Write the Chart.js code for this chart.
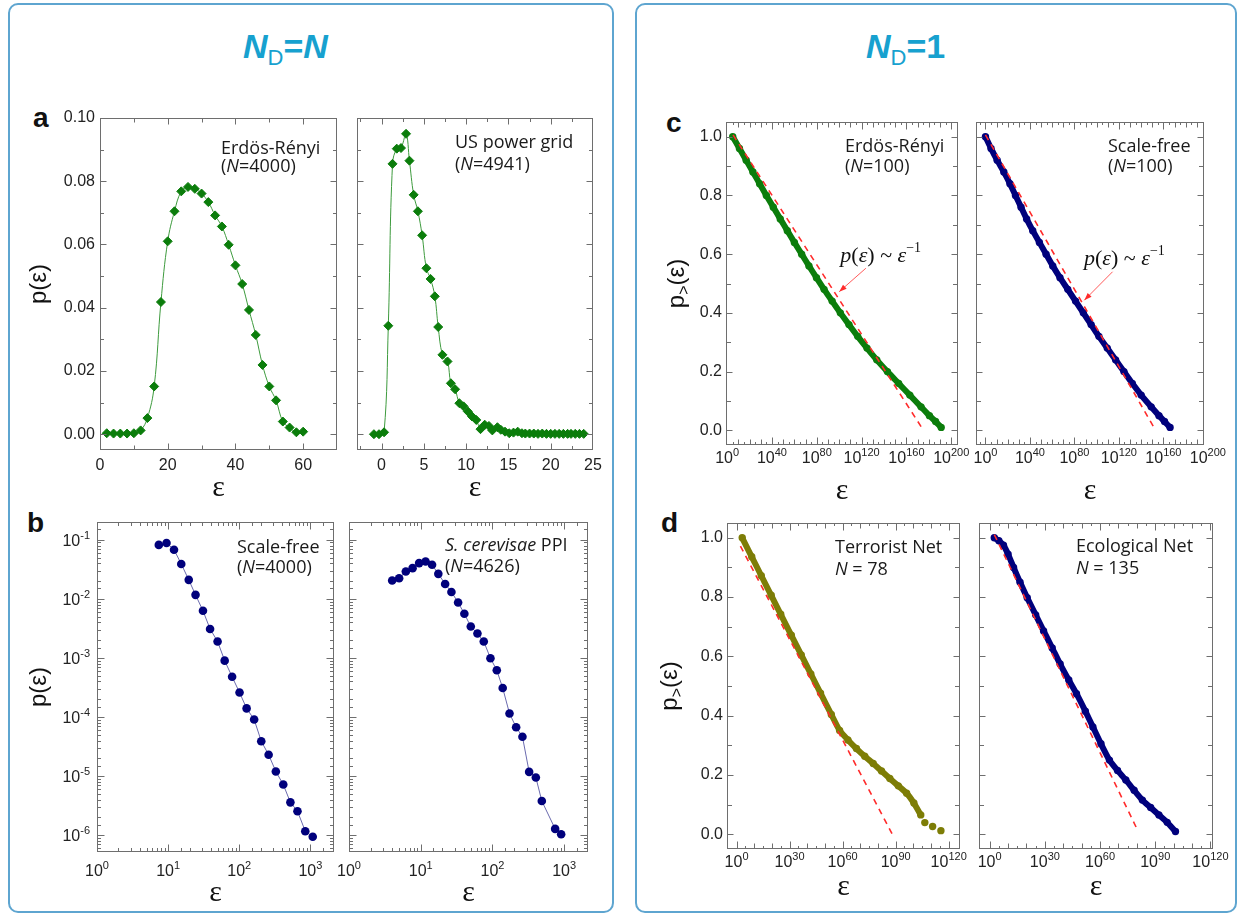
<!DOCTYPE html>
<html>
<head>
<meta charset="utf-8">
<title>p(epsilon) for N_D = N and N_D = 1</title>
<script src="https://cdn.jsdelivr.net/npm/chart.js@4.4.1/dist/chart.umd.min.js"></script>
<style>
  body { margin: 0; width: 1238px; height: 915px; background: #fff; position: relative; overflow: hidden; font-family: "Liberation Sans", Arial, sans-serif; }
  .box { position: absolute; border: 2px solid #5ea5d0; border-radius: 10px; box-sizing: border-box; }
  .head { position: absolute; color: #17a1cf; font-size: 34px; font-weight: bold; line-height: 34px; white-space: nowrap; }
  .head sub { font-size: 22px; font-weight: normal; vertical-align: -7px; line-height: 0; }
  .tag { position: absolute; font-size: 28px; font-weight: bold; line-height: 28px; color: #111; }
  canvas { position: absolute; }
</style>
</head>
<body>
<div class="box" style="left:8px; top:3px; width:606px; height:910px;"></div>
<div class="box" style="left:635px; top:3px; width:602px; height:910px;"></div>
<div class="head" style="left:243px; top:29px;"><i>N</i><sub>D</sub>=<i>N</i></div>
<div class="head" style="left:866px; top:29px;"><i>N</i><sub>D</sub>=1</div>
<div class="tag" style="left:33px; top:104px;">a</div>
<div class="tag" style="left:27px; top:509px;">b</div>
<div class="tag" style="left:666px; top:109px;">c</div>
<div class="tag" style="left:661px; top:509px;">d</div>

<canvas id="aLeft"></canvas>
<canvas id="aRight"></canvas>
<canvas id="bLeft"></canvas>
<canvas id="bRight"></canvas>
<canvas id="cLeft"></canvas>
<canvas id="cRight"></canvas>
<canvas id="dLeft"></canvas>
<canvas id="dRight"></canvas>

<script>
// ---------- data ----------
// (a) Erdos-Renyi, N = 4000
const erdosEps = [2, 4, 6, 8, 10, 12, 14, 16, 18, 20, 22, 24, 26, 28, 30, 32, 34, 36, 38, 40, 42, 44, 46, 48, 50, 52, 54, 56, 58, 60];
const erdosP = [0.0003, 0.0002, 0.0002, 0.0002, 0.0003, 0.0012, 0.0051, 0.0151, 0.0418, 0.0610, 0.0705, 0.0768, 0.0782, 0.0776, 0.0761,
                0.0734, 0.0692, 0.0657, 0.0599, 0.0534, 0.0475, 0.0393, 0.0314, 0.0219, 0.0151, 0.0107, 0.0040, 0.0021, 0.0006, 0.0008];

// (a) US power grid, N = 4941
const gridEps = [-0.9, -0.3, 0.3, 0.8, 1.3, 1.8, 2.3, 2.9, 3.3, 3.8, 4.3, 4.8, 5.3, 5.8, 6.3, 6.7, 7.2, 7.8, 8.2, 8.7,
                 9.2, 9.7, 10.2, 10.7, 11.2, 11.7, 12.2, 12.7, 13.1, 13.7, 14.1, 14.6, 15.1, 15.6, 16.1, 16.6, 17.0, 17.5,
                 18.0, 18.5, 19.0, 19.5, 20.0, 20.5, 21.0, 21.5, 22.0, 22.4, 22.9, 23.4, 23.9];
const gridP = [0.0000, 0.0000, 0.0006, 0.0343, 0.0855, 0.0903, 0.0905, 0.0950, 0.0865, 0.0757, 0.0705, 0.0629, 0.0525, 0.0491,
               0.0436, 0.0339, 0.0251, 0.0230, 0.0161, 0.0142, 0.0098, 0.0088, 0.0072, 0.0056, 0.0045, 0.0016, 0.0030, 0.0026,
               0.0012, 0.0022, 0.0014, 0.0008, 0.0003, 0.0005, 0.0008, 0.0003, 0.0002, 0.0002, 0.0002, 0.0001, 0.0002, 0.0001,
               0.0001, 0.0001, 0.0001, 0.0001, 0.0001, 0.0001, 0.0001, 0.0001, 0.0001];

// (b) scale-free, N = 4000
const sfEps = [7.4, 9.5, 12.1, 15.3, 19.5, 24.3, 30.9, 38.9, 49.6, 62.4, 79.4, 101, 127, 162, 204, 259, 327, 416, 524, 659, 848, 1080];
const sfP = [0.082, 0.088, 0.068, 0.039, 0.021, 0.0117, 0.0063, 0.0031, 0.0019, 0.0009, 0.00048, 0.00026, 0.00014, 9.1e-5, 3.9e-5,
             2.3e-5, 1.2e-5, 7.2e-6, 3.6e-6, 2.55e-6, 1.17e-6, 9.4e-7];

// (b) S. cerevisae PPI, N = 4626
const ppiEps = [4.0, 5.0, 6.2, 7.7, 9.5, 11.7, 14.4, 17.6, 21.9, 26.8, 33.2, 40.6, 49.9, 61.8, 75.7, 93.8, 115, 139, 173, 214, 262, 325, 403, 488, 749, 908];
const ppiP = [0.0205, 0.0224, 0.029, 0.0331, 0.0403, 0.043, 0.0377, 0.0265, 0.0179, 0.0131, 0.0087, 0.0056, 0.0034, 0.0026, 0.0019,
              0.00099, 0.00062, 0.00031, 0.000115, 6.7e-5, 4.65e-5, 1.18e-5, 9.5e-6, 3.8e-6, 1.28e-6, 1.04e-6];

// (c), (d): cumulative p>(eps); eps given as log10(eps)
const erSmallLogEps = [5, 11, 17, 23, 29, 35, 41.2, 47.4, 53.7, 60, 66.5, 73, 79.7, 86.5, 93.7, 101, 108.7, 116.5, 124.8, 133.5, 143, 153, 163, 173, 180.5, 186, 191];
const erSmallCum = [1.00, 0.96, 0.92, 0.88, 0.84, 0.80, 0.76, 0.72, 0.68, 0.64, 0.60, 0.56, 0.52, 0.48, 0.44, 0.40, 0.36, 0.32, 0.28, 0.24, 0.20, 0.16, 0.12, 0.08, 0.05, 0.03, 0.01];

const sfSmallLogEps = [0, 5, 10.5, 16.5, 22, 27, 32, 37, 42.5, 48.5, 54.5, 60.5, 67, 74, 81, 88, 95, 102, 109.5, 117, 124.5, 132, 140, 149, 156, 161, 166];
const sfSmallCum = [1.00, 0.96, 0.92, 0.88, 0.84, 0.80, 0.76, 0.72, 0.68, 0.64, 0.60, 0.56, 0.52, 0.48, 0.44, 0.40, 0.36, 0.32, 0.28, 0.24, 0.20, 0.16, 0.12, 0.08, 0.05, 0.03, 0.01];

const terrorLogEps = [3.2, 8.6, 14, 19.6, 25, 31, 36.6, 42, 47.5, 53.6, 58.3, 63, 67.8, 72.5, 77.3, 82, 86.7, 91.5, 96.2, 100.3, 104.2, 106.5, 110.9, 115.6];
const terrorCum = [1.0, 0.936, 0.872, 0.806, 0.742, 0.671, 0.605, 0.541, 0.476, 0.404, 0.350, 0.318, 0.289, 0.263, 0.2385, 0.213, 0.188, 0.163, 0.1385, 0.105, 0.065, 0.039, 0.026, 0.012];

const ecoLogEps = [2.5, 5, 7.5, 10, 13, 16.5, 20.4, 25, 29.3, 34, 38.3, 43, 47.2, 52, 56.1, 60.5, 65.1, 69.5, 74, 78.5, 83, 87.5, 92, 96.5, 101];
const ecoCum = [1.0, 0.99, 0.975, 0.945, 0.9, 0.85, 0.798, 0.74, 0.686, 0.628, 0.574, 0.52, 0.474, 0.415, 0.362, 0.305, 0.25, 0.215, 0.183, 0.148, 0.115, 0.09, 0.065, 0.04, 0.009];

// red dashed guides p(eps) ~ eps^-1 (two end points each)
const guideCLeftLog = [5.3, 174.2], guideCLeftCum = [1.006, 0.006];
const guideCRightLog = [0, 153], guideCRightCum = [1.006, 0.0];
const guideDLeftLog = [2.2, 88.8], guideDLeftCum = [0.972, -0.008];
const guideDRightLog = [2.5, 80.3], guideDRightCum = [1.011, 0.015];

// tick labels
const aLeftXLabels = [0, 20, 40, 60];
const aRightXLabels = [0, 5, 10, 15, 20, 25];
const aYLabels = [0, 0.02, 0.04, 0.06, 0.08, 0.10];
const bXDecades = [0, 1, 2, 3];
const bYDecades = [-6, -5, -4, -3, -2, -1];
const cXDecades = [0, 40, 80, 120, 160, 200];
const dXDecades = [0, 30, 60, 90, 120];
const cumYLabels = [0, 0.2, 0.4, 0.6, 0.8, 1.0];

// ---------- helpers ----------
const GREEN = '#0b7d0b', NAVY = '#00007c', OLIVE = '#7d7d06', RED = '#ff2b2b';
const PAD = {left: 4, top: 14, right: 28, bottom: 4};
const TICK_FONT = {family: 'Liberation Sans', size: 16};
const EPS_FONT = {family: 'Liberation Serif', size: 30};
const NOTE = '18px "Open Sans"', NOTE_I = 'italic 18px "Open Sans"';

Chart.defaults.font.family = 'Liberation Sans';

const inList = (list, v) => list.some(l => Math.abs(l - v) < 1e-9);
const isDecade = v => { const e = Math.log10(v); return Math.abs(e - Math.round(e)) < 1e-6; };
const pts = (xs, ys) => xs.map((x, i) => ({x: x, y: ys[i]}));

function richWidth(ctx, parts) {
  let w = 0;
  parts.forEach(p => { ctx.font = p.f; w += ctx.measureText(p.t).width; });
  return w;
}
function drawRich(ctx, x, y, parts) {
  parts.forEach(p => {
    ctx.font = p.f;
    ctx.fillText(p.t, x, y + (p.dy || 0));
    x += ctx.measureText(p.t).width;
  });
}
const expLabel = e => [{t: '10', f: '16px "Liberation Sans"'}, {t: String(e), f: '11px "Liberation Sans"', dy: -7}];

const LAW = [
  {t: 'p', f: 'italic 22px "Liberation Serif"'},
  {t: '(', f: '22px "Liberation Serif"'},
  {t: '\u03B5', f: 'italic 22px "Liberation Serif"'},
  {t: ') ~ ', f: '22px "Liberation Serif"'},
  {t: '\u03B5', f: 'italic 22px "Liberation Serif"'},
  {t: '\u22121', f: '14px "Liberation Serif"', dy: -10}
];
const PCUM = [
  {t: 'p', f: '24px "Liberation Sans"'},
  {t: '>', f: '16px "Liberation Sans"', dy: 5},
  {t: '(\u03B5)', f: '24px "Liberation Sans"'}
];

const deco = {
  id: 'deco',
  afterDatasetsDraw(chart, args, o) {
    const ctx = chart.ctx, a = chart.chartArea;
    const xs = chart.scales.x, ys = chart.scales.y;
    ctx.save();
    // frame with inward ticks on all four sides
    const L = Math.round(a.left) + 0.5, R = Math.round(a.right) - 0.5;
    const T = Math.round(a.top) + 0.5, B = Math.round(a.bottom) - 0.5;
    ctx.strokeStyle = '#6e6e6e';
    ctx.lineWidth = 1;
    ctx.strokeRect(L, T, R - L, B - T);
    ctx.beginPath();
    xs.ticks.forEach(t => {
      const p = Math.round(xs.getPixelForValue(t.value)) + 0.5;
      if (p <= L + 1 || p >= R - 1) return;
      const len = o.xLen(t.value);
      ctx.moveTo(p, B); ctx.lineTo(p, B - len);
      ctx.moveTo(p, T); ctx.lineTo(p, T + len);
    });
    ys.ticks.forEach(t => {
      const p = Math.round(ys.getPixelForValue(t.value)) + 0.5;
      if (p <= T + 1 || p >= B - 1) return;
      const len = o.yLen(t.value);
      ctx.moveTo(L, p); ctx.lineTo(L + len, p);
      ctx.moveTo(R, p); ctx.lineTo(R - len, p);
    });
    ctx.stroke();

    ctx.textAlign = 'left';
    ctx.textBaseline = 'alphabetic';

    // power-of-ten tick labels
    ctx.fillStyle = '#222';
    if (o.xExp) o.xExp.list.forEach(e => {
      const p = xs.getPixelForValue(o.xExp.log ? Math.pow(10, e) : e);
      const parts = expLabel(e);
      drawRich(ctx, p - richWidth(ctx, parts) / 2, a.bottom + o.xExp.dy, parts);
    });
    if (o.yExp) o.yExp.list.forEach(e => {
      const p = ys.getPixelForValue(Math.pow(10, e));
      const parts = expLabel(e);
      drawRich(ctx, a.left - 7 - richWidth(ctx, parts), p + 6, parts);
    });

    ctx.fillStyle = '#1a1a1a';
    (o.notes || []).forEach(n => drawRich(ctx, a.left + n.dx, a.top + n.dy, n.parts));

    if (o.law) {
      const w = o.law;
      ctx.fillStyle = '#111';
      drawRich(ctx, xs.getPixelForValue(w.text[0]), ys.getPixelForValue(w.text[1]), LAW);
      const x0 = xs.getPixelForValue(w.from[0]), y0 = ys.getPixelForValue(w.from[1]);
      const x1 = xs.getPixelForValue(w.to[0]), y1 = ys.getPixelForValue(w.to[1]);
      ctx.strokeStyle = '#ff5a5a';
      ctx.beginPath(); ctx.moveTo(x0, y0); ctx.lineTo(x1, y1); ctx.stroke();
      const ang = Math.atan2(y1 - y0, x1 - x0);
      ctx.fillStyle = '#ff2b2b';
      ctx.beginPath();
      ctx.moveTo(x1, y1);
      ctx.lineTo(x1 - 8 * Math.cos(ang - 0.35), y1 - 8 * Math.sin(ang - 0.35));
      ctx.lineTo(x1 - 8 * Math.cos(ang + 0.35), y1 - 8 * Math.sin(ang + 0.35));
      ctx.closePath(); ctx.fill();
    }

    if (o.yTitle) {
      ctx.translate(a.left - o.yTitle, (a.top + a.bottom) / 2);
      ctx.rotate(-Math.PI / 2);
      ctx.fillStyle = '#111';
      drawRich(ctx, -richWidth(ctx, PCUM) / 2, 8, PCUM);
    }
    ctx.restore();
  }
};
Chart.register(deco);

// linear axes get their ticks from (min, max, step) directly
function stepTicks(min, max, step) {
  const out = [];
  for (let k = Math.ceil(min / step - 1e-9); k * step <= max + 1e-9; k++) out.push({value: +(k * step).toFixed(6)});
  return out;
}

function axis(o) {
  const ax = {
    type: o.type || 'linear', min: o.min, max: o.max,
    grid: {display: false, drawTicks: false}, border: {display: false},
    title: o.title ? {display: true, text: o.title, font: o.titleFont, color: '#111', padding: 0} : {display: false},
    ticks: {display: !!o.labels, autoSkip: false, maxRotation: 0, minRotation: 0,
            padding: o.pad === undefined ? 5 : o.pad, font: TICK_FONT, color: '#222',
            callback: v => (o.labels && inList(o.labels, v)) ? (o.fmt ? o.fmt(v) : String(v)) : ''}
  };
  if (ax.type === 'linear') ax.afterBuildTicks = s => { s.ticks = stepTicks(o.min, o.max, o.step); };
  return ax;
}

function plot(id, box, yw, xh, x, y, datasets, extra) {
  const cv = document.getElementById(id);
  cv.width = box.r - box.l + yw + PAD.left + PAD.right;
  cv.height = box.b - box.t + xh + PAD.top + PAD.bottom;
  cv.style.left = (box.l - yw - PAD.left) + 'px';
  cv.style.top = (box.t - PAD.top) + 'px';
  x.afterFit = s => { s.height = xh; s.paddingLeft = 0; s.paddingRight = 0; };
  y.afterFit = s => { s.width = yw; s.paddingTop = 0; s.paddingBottom = 0; };
  return new Chart(cv, {
    type: 'scatter',
    data: {datasets: datasets},
    options: {
      responsive: false, animation: false, events: [],
      layout: {padding: PAD},
      plugins: {legend: {display: false}, tooltip: {enabled: false}, deco: extra},
      scales: {x: x, y: y}
    }
  });
}

const note = (dx, dy, parts) => ({dx: dx, dy: dy, parts: parts});
const nLine = num => [{t: '(', f: NOTE}, {t: 'N', f: NOTE_I}, {t: '=' + num + ')', f: NOTE}];
const nEq = num => [{t: 'N', f: NOTE_I}, {t: ' = ' + num, f: NOTE}];

function diamonds(data, color) {
  return {data: data, showLine: true, tension: 0.4, borderColor: '#3d9a3d', borderWidth: 1,
          pointStyle: 'rectRot', pointRadius: 4.5, pointBackgroundColor: color, pointBorderColor: color, pointBorderWidth: 1};
}
function dots(data, color) {
  return {data: data, showLine: true, borderColor: '#6a6aae', borderWidth: 1,
          pointRadius: 4.3, pointBackgroundColor: color, pointBorderColor: color, pointBorderWidth: 0};
}
function band(data, color, segment) {
  const d = {data: data, showLine: true, borderColor: color, borderWidth: 6, tension: 0.2,
             pointRadius: 3.7, pointBackgroundColor: color, pointBorderWidth: 0};
  if (segment) d.segment = segment;
  return d;
}
function guide(xs, ys) {
  return {data: pts(xs, ys), showLine: true, borderColor: RED, borderWidth: 1.6, borderDash: [6, 5], pointRadius: 0};
}

// ---------- tick mark lengths ----------
const aYLen = v => inList(aYLabels, v) ? 6 : 3.5;
const logLen = v => isDecade(v) ? 7 : 3.5;
const cumLen = v => inList(cumYLabels, v) ? 6 : 4.5;
const cXLen = v => inList(cXDecades, v) ? 7 : (Math.abs(v % 10) < 1e-9 ? 5 : 2.5);
const dXLen = v => inList(dXDecades, v) ? 7 : (Math.abs(v % 10) < 1e-9 ? 5 : 2.5);

// ---------- (a) ----------
plot('aLeft', {l: 100, t: 118, r: 337, b: 450}, 75, 56,
  axis({min: 0, max: 70, step: 10, labels: aLeftXLabels, pad: 6, title: '\u03B5', titleFont: EPS_FONT}),
  axis({min: -0.005, max: 0.10, step: 0.01, labels: aYLabels, pad: 5, fmt: v => v.toFixed(2),
        title: 'p(\u03B5)', titleFont: {family: 'Liberation Sans', size: 24}}),
  [diamonds(pts(erdosEps, erdosP), GREEN)],
  {xLen: v => inList(aLeftXLabels, v) ? 6 : 4, yLen: aYLen,
   notes: [note(121, 36, [{t: 'Erd\u00F6s-R\u00E9nyi', f: NOTE}]), note(121, 54, nLine(4000))]});

plot('aRight', {l: 357, t: 118, r: 593, b: 450}, 22, 56,
  axis({min: -2.9, max: 25, step: 2.5, labels: aRightXLabels, pad: 6, title: '\u03B5', titleFont: EPS_FONT}),
  axis({min: -0.005, max: 0.10, step: 0.01}),
  [diamonds(pts(gridEps, gridP), GREEN)],
  {xLen: v => inList(aRightXLabels, v) ? 6 : 3.5, yLen: aYLen,
   notes: [note(98, 30, [{t: 'US power grid', f: NOTE}]), note(98, 52, nLine(4941))]});

// ---------- (b) ----------
plot('bLeft', {l: 97, t: 522, r: 334, b: 852}, 72, 59,
  axis({type: 'logarithmic', min: 1, max: 2150, title: '\u03B5', titleFont: EPS_FONT}),
  axis({type: 'logarithmic', min: 5.2e-7, max: 0.2, title: 'p(\u03B5)', titleFont: {family: 'Liberation Sans', size: 24}}),
  [dots(pts(sfEps, sfP), NAVY)],
  {xLen: logLen, yLen: logLen, xExp: {list: bXDecades, log: true, dy: 24}, yExp: {list: bYDecades},
   notes: [note(140, 31, [{t: 'Scale-free', f: NOTE}]), note(140, 51, nLine(4000))]});

plot('bRight', {l: 349, t: 522, r: 588, b: 852}, 22, 59,
  axis({type: 'logarithmic', min: 1, max: 2150, title: '\u03B5', titleFont: EPS_FONT}),
  axis({type: 'logarithmic', min: 5.2e-7, max: 0.2}),
  [dots(pts(ppiEps, ppiP), NAVY)],
  {xLen: logLen, yLen: logLen, xExp: {list: bXDecades, log: true, dy: 24},
   notes: [note(96, 29, [{t: 'S. cerevisae', f: NOTE_I}, {t: ' PPI', f: NOTE}]), note(96, 50, nLine(4626))]});

// ---------- (c) ----------
plot('cLeft', {l: 726, t: 122, r: 958, b: 445}, 70, 64,
  axis({min: -1, max: 206, step: 5, title: '\u03B5', titleFont: EPS_FONT}),
  axis({min: -0.05, max: 1.05, step: 0.1, labels: cumYLabels, pad: 4, fmt: v => v.toFixed(1)}),
  [guide(guideCLeftLog, guideCLeftCum), band(pts(erSmallLogEps, erSmallCum), GREEN)],
  {xLen: cXLen, yLen: cumLen, yTitle: 50, xExp: {list: cXDecades, dy: 18},
   notes: [note(119, 30, [{t: 'Erd\u00F6s-R\u00E9nyi', f: NOTE}]), note(119, 50, nLine(100))],
   law: {text: [101, 0.574], from: [123.8, 0.552], to: [100, 0.472]}});

plot('cRight', {l: 976, t: 122, r: 1204, b: 445}, 22, 64,
  axis({min: -8.5, max: 196.5, step: 5, title: '\u03B5', titleFont: EPS_FONT}),
  axis({min: -0.05, max: 1.05, step: 0.1}),
  [guide(guideCRightLog, guideCRightCum), band(pts(sfSmallLogEps, sfSmallCum), NAVY)],
  {xLen: cXLen, yLen: cumLen, xExp: {list: cXDecades, dy: 18},
   notes: [note(132, 30, [{t: 'Scale-free', f: NOTE}]), note(132, 50, nLine(100))],
   law: {text: [88.6, 0.562], from: [114.3, 0.54], to: [88.9, 0.443]}});

// ---------- (d) ----------
plot('dLeft', {l: 727, t: 523, r: 960, b: 849}, 70, 56,
  axis({min: -5.4, max: 126.4, step: 5, title: '\u03B5', titleFont: EPS_FONT}),
  axis({min: -0.05, max: 1.05, step: 0.1, labels: cumYLabels, pad: 4, fmt: v => v.toFixed(1)}),
  [guide(guideDLeftLog, guideDLeftCum),
   band(pts(terrorLogEps, terrorCum), OLIVE, {borderColor: c => c.p0.parsed.x >= 104 ? 'rgba(0,0,0,0)' : undefined})],
  {xLen: dXLen, yLen: cumLen, yTitle: 58, xExp: {list: dXDecades, dy: 18},
   notes: [note(108, 30, [{t: 'Terrorist Net', f: NOTE}]), note(108, 52, nEq(78))]});

plot('dRight', {l: 979, t: 523, r: 1213, b: 849}, 22, 56,
  axis({min: -5.8, max: 121.4, step: 5, title: '\u03B5', titleFont: EPS_FONT}),
  axis({min: -0.05, max: 1.05, step: 0.1}),
  [guide(guideDRightLog, guideDRightCum), band(pts(ecoLogEps, ecoCum), NAVY)],
  {xLen: dXLen, yLen: cumLen, xExp: {list: dXDecades, dy: 18},
   notes: [note(97, 29, [{t: 'Ecological Net', f: NOTE}]), note(97, 51, nEq(135))]});
</script>
</body>
</html>
